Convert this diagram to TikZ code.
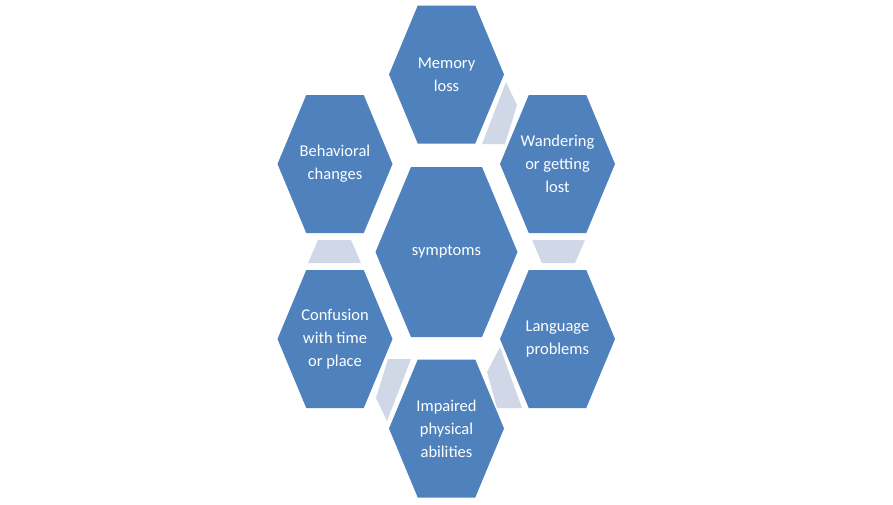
\documentclass[tikz,border=0pt]{standalone}
\usepackage{fontspec}
\setmainfont{Carlito}
\definecolor{hexblue}{HTML}{4F81BD}
\definecolor{linkgray}{HTML}{D0D8E8}

\begin{document}
\begin{tikzpicture}[x=1pt,y=-1pt,
  hex/.style 2 args={minimum width=2*#1pt, minimum height=2*#2pt, inner sep=0pt,
    text=white, align=center, font=\fontsize{16.5}{23}\selectfont,
    path picture={\fill[hexblue] (path picture bounding box.west)
      -- ++(#1/2*1pt,#2*1pt) -- ++(#1*1pt,0pt) -- ++(#1/2*1pt,-#2*1pt)
      -- ++(-#1/2*1pt,-#2*1pt) -- ++(-#1*1pt,0pt) -- cycle;}},
  link/.style={fill=linkgray}]
\useasboundingbox[fill=white] (0,0) rectangle (893,504);

% centre cell
  \node[hex={71}{85}] (symptoms) at (446.5,252) {symptoms};

% outer ring
  \node[hex={57.5}{69}] (memory) at (446.5,74.5) {Memory\\loss};
  \node[hex={57.5}{69}] (wander) at (557.5,164) {Wandering\\or getting\\lost};
  \node[hex={57.5}{69}] (language) at (557.5,339) {Language\\problems};
  \node[hex={57.5}{69}] (impaired) at (446.5,428.5) {Impaired\\physical\\abilities};
  \node[hex={57.5}{69}] (confusion) at (335,339) {Confusion\\with time\\or place};
  \node[hex={57.5}{69}] (behave) at (335,164) {Behavioral\\changes};

% links between outer cells
  \fill[link] (506,82) -- (517,105) -- (505,144) -- (482,144) -- cycle;   % memory - wander
  \fill[link] (532,240) -- (585,240) -- (575,263) -- (542,263) -- cycle;  % wander - language
  \fill[link] (500,347) -- (487,372) -- (497,408) -- (522,408) -- cycle;  % language - impaired
  \fill[link] (388,359) -- (411,359) -- (387,421) -- (376,398) -- cycle;  % impaired - confusion
  \fill[link] (318,240) -- (351,240) -- (361,263) -- (308,263) -- cycle;  % confusion - behave

\end{tikzpicture}
\end{document}
